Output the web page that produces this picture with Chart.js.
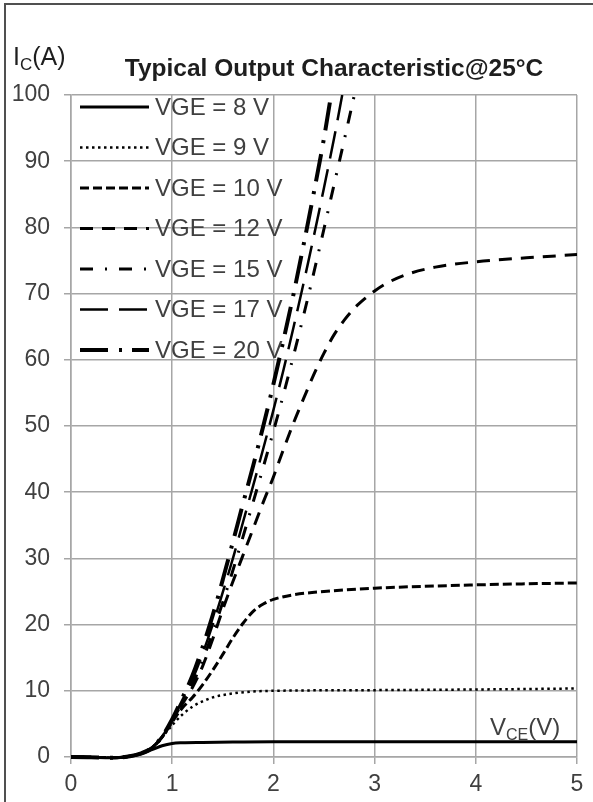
<!DOCTYPE html>
<html>
<head>
<meta charset="utf-8">
<script src="https://cdn.jsdelivr.net/npm/chart.js@4/dist/chart.umd.min.js"></script>
<style>
  body { margin: 0; background: #fff; }
  #frame {
    position: absolute; left: 4px; top: 3px; width: 700px; height: 900px;
    border-left: 2px solid #505050; border-top: 2px solid #505050;
  }
  #chart { position: absolute; left: 0; top: 0; }
</style>
</head>
<body>
<div id="frame"></div>
<canvas id="chart" width="593" height="802"></canvas>
<script>
// Curve data (VCE in V, IC in A)
const v8 = [0, 0.2, 0.4, 0.55, 0.7, 0.8, 0.9, 1.0, 1.1, 1.3, 1.6, 2.0, 3.0, 4.0, 5.0];
const i8 = [0, -0.05, -0.1, 0.05, 0.5, 1.1, 1.7, 2.05, 2.15, 2.2, 2.25, 2.3, 2.3, 2.3, 2.3];

const v9 = [0, 0.2, 0.4, 0.55, 0.7, 0.8, 0.9, 1.0, 1.1, 1.2, 1.3, 1.4, 1.6, 1.8, 2.0, 3.0, 4.0, 5.0];
const i9 = [0, -0.05, -0.1, 0.05, 0.6, 1.4, 3.0, 4.8, 6.4, 7.6, 8.4, 9.0, 9.6, 9.9, 10.0, 10.1, 10.2, 10.35];

const v10 = [0, 0.2, 0.4, 0.55, 0.7, 0.8, 0.9, 1.0, 1.1, 1.2, 1.3, 1.4, 1.5, 1.6, 1.7, 1.8, 1.9, 2.0, 2.2, 2.5, 3.0, 4.0, 5.0];
const i10 = [0, -0.05, -0.1, 0.05, 0.6, 1.4, 3.0, 5.3, 7.4, 9.0, 10.9, 13.1, 15.5, 18.0, 20.2, 22.0, 23.1, 23.8, 24.5, 25.0, 25.5, 26.0, 26.3];

const v12 = [0, 0.2, 0.4, 0.55, 0.7, 0.8, 0.9, 1.0, 1.1, 1.2, 1.3, 1.4, 1.5, 1.6, 1.7, 1.8, 1.9, 2.0, 2.1, 2.2, 2.3, 2.4, 2.5, 2.6, 2.7, 2.8, 2.9, 3.0, 3.1, 3.3, 3.6, 4.0, 4.5, 5.0];
const i12 = [0, -0.05, -0.1, 0.05, 0.6, 1.4, 3.0, 5.5, 8.0, 10.5, 13.7, 17.8, 22.3, 26.5, 30.5, 34.5, 38.5, 42.3, 46.5, 50.5, 54.2, 57.8, 61.0, 63.8, 66.0, 67.8, 69.2, 70.4, 71.4, 72.8, 74.0, 74.8, 75.4, 75.9];

const v15 = [0, 0.2, 0.4, 0.55, 0.7, 0.8, 0.9, 1.0, 1.1, 1.2, 1.3, 1.4, 1.5, 1.6, 1.7, 1.8, 1.9, 2.0, 2.1, 2.2, 2.3, 2.4, 2.5, 2.6, 2.7, 2.8];
const i15 = [0, -0.05, -0.1, 0.05, 0.6, 1.4, 3.05, 5.5, 8.2, 11.0, 14.6, 18.8, 23.4, 28.2, 33.3, 38.5, 43.8, 49.2, 54.8, 60.7, 66.8, 73.2, 79.8, 86.5, 93.2, 100];

const v17 = [0, 0.2, 0.4, 0.55, 0.7, 0.8, 0.9, 1.0, 1.1, 1.2, 1.3, 1.4, 1.5, 1.6, 1.7, 1.8, 1.9, 2.0, 2.1, 2.2, 2.3, 2.4, 2.5, 2.6, 2.68];
const i17 = [0, -0.05, -0.1, 0.05, 0.6, 1.4, 3.1, 5.6, 8.6, 11.7, 15.6, 20.0, 24.9, 30.0, 35.5, 41.0, 46.6, 52.4, 58.5, 65.0, 71.7, 78.7, 86.0, 93.5, 100];

const v20 = [0, 0.2, 0.4, 0.55, 0.7, 0.8, 0.9, 1.0, 1.1, 1.2, 1.3, 1.4, 1.5, 1.6, 1.7, 1.8, 1.9, 2.0, 2.1, 2.2, 2.3, 2.4, 2.5, 2.57];
const i20 = [0, -0.05, -0.1, 0.05, 0.6, 1.4, 3.1, 5.7, 8.9, 12.3, 16.6, 21.4, 26.8, 32.5, 38.3, 44.0, 50.0, 56.3, 63.0, 70.0, 77.5, 85.3, 93.5, 100];

const seriesLabels = ["VGE = 8 V", "VGE = 9 V", "VGE = 10 V", "VGE = 12 V", "VGE = 15 V", "VGE = 17 V", "VGE = 20 V"];
const xTicks = [0, 1, 2, 3, 4, 5];
const yTicks = [0, 10, 20, 30, 40, 50, 60, 70, 80, 90, 100];

const textColor = "#404040";
const gridColor = "#a6a6a6";

function pts(xs, ys) {
  return xs.map((x, i) => ({ x: x, y: ys[i] }));
}

function curve(label, xs, ys, width, dash) {
  return {
    label: label,
    data: pts(xs, ys),
    showLine: true,
    borderColor: "#000",
    borderWidth: width,
    borderDash: dash,
    pointRadius: 0,
    cubicInterpolationMode: "monotone",
    clip: { left: 0, top: 0, right: 0, bottom: 4 },
  };
}

// legend drawn inside the plot, top-left, one row per curve
const innerLegend = {
  id: "innerLegend",
  afterDatasetsDraw(chart) {
    const ctx = chart.ctx;
    ctx.save();
    chart.data.datasets.forEach((ds, i) => {
      const y = 107 + i * 40.5;
      ctx.strokeStyle = "#000";
      ctx.lineWidth = ds.borderWidth;
      ctx.setLineDash(ds.borderDash);
      ctx.beginPath();
      ctx.moveTo(80, y);
      ctx.lineTo(149, y);
      ctx.stroke();
      ctx.setLineDash([]);
      ctx.fillStyle = textColor;
      ctx.font = "24px 'Liberation Sans', Arial, sans-serif";
      ctx.textBaseline = "middle";
      ctx.textAlign = "left";
      ctx.fillText(ds.label, 155, y + 1);
    });
    ctx.restore();
  },
};

// title and axis names with subscripts
function subText(ctx, x, y, main, sub, tail, size) {
  ctx.font = size + "px 'Liberation Sans', Arial, sans-serif";
  ctx.fillText(main, x, y);
  x += ctx.measureText(main).width;
  ctx.font = Math.round(size * 0.68) + "px 'Liberation Sans', Arial, sans-serif";
  ctx.fillText(sub, x, y + 5);
  x += ctx.measureText(sub).width;
  ctx.font = size + "px 'Liberation Sans', Arial, sans-serif";
  ctx.fillText(tail, x, y);
}

const labelsPlugin = {
  id: "labelsPlugin",
  afterDraw(chart) {
    const ctx = chart.ctx;
    ctx.save();
    ctx.fillStyle = "#1e1e1e";
    ctx.textBaseline = "alphabetic";
    ctx.textAlign = "center";
    ctx.font = "bold 24.5px 'Liberation Sans', Arial, sans-serif";
    ctx.fillText("Typical Output Characteristic@25°C", 334, 76);
    ctx.textAlign = "left";
    subText(ctx, 13, 65, "I", "C", "(A)", 25);
    ctx.fillStyle = textColor;
    subText(ctx, 490, 735, "V", "CE", "(V)", 24);
    ctx.restore();
  },
};

new Chart(document.getElementById("chart"), {
  type: "scatter",
  data: {
    datasets: [
      curve(seriesLabels[0], v8, i8, 3, []),
      curve(seriesLabels[1], v9, i9, 2.5, [2.5, 3.5]),
      curve(seriesLabels[2], v10, i10, 3, [9, 4]),
      curve(seriesLabels[3], v12, i12, 3, [13, 9]),
      curve(seriesLabels[4], v15, i15, 3, [13, 12, 2, 12]),
      curve(seriesLabels[5], v17, i17, 2.5, [28, 11]),
      curve(seriesLabels[6], v20, i20, 4, [28, 11, 3, 10]),
    ],
  },
  options: {
    responsive: false,
    animation: false,
    layout: { padding: { top: 95, right: 16, left: 0, bottom: 0 } },
    plugins: {
      legend: { display: false },
      tooltip: { enabled: false },
    },
    scales: {
      x: {
        type: "linear",
        min: 0,
        max: 5,
        afterBuildTicks: (s) => { s.ticks = xTicks.map((v) => ({ value: v })); },
        afterFit: (s) => { s.height = 45; },
        ticks: {
          color: textColor,
          font: { family: "'Liberation Sans', Arial, sans-serif", size: 23 },
          padding: 7,
          maxRotation: 0,
        },
        grid: { color: gridColor, lineWidth: 1.5, tickLength: 7 },
        border: { color: gridColor, width: 1.5 },
      },
      y: {
        type: "linear",
        min: 0,
        max: 100,
        afterBuildTicks: (s) => { s.ticks = yTicks.map((v) => ({ value: v })); },
        afterFit: (s) => { s.width = 71; },
        ticks: {
          color: textColor,
          font: { family: "'Liberation Sans', Arial, sans-serif", size: 23 },
          padding: 14,
        },
        grid: { color: gridColor, lineWidth: 1.5, tickLength: 7 },
        border: { color: gridColor, width: 1.5 },
      },
    },
  },
  plugins: [innerLegend, labelsPlugin],
});
</script>
</body>
</html>
